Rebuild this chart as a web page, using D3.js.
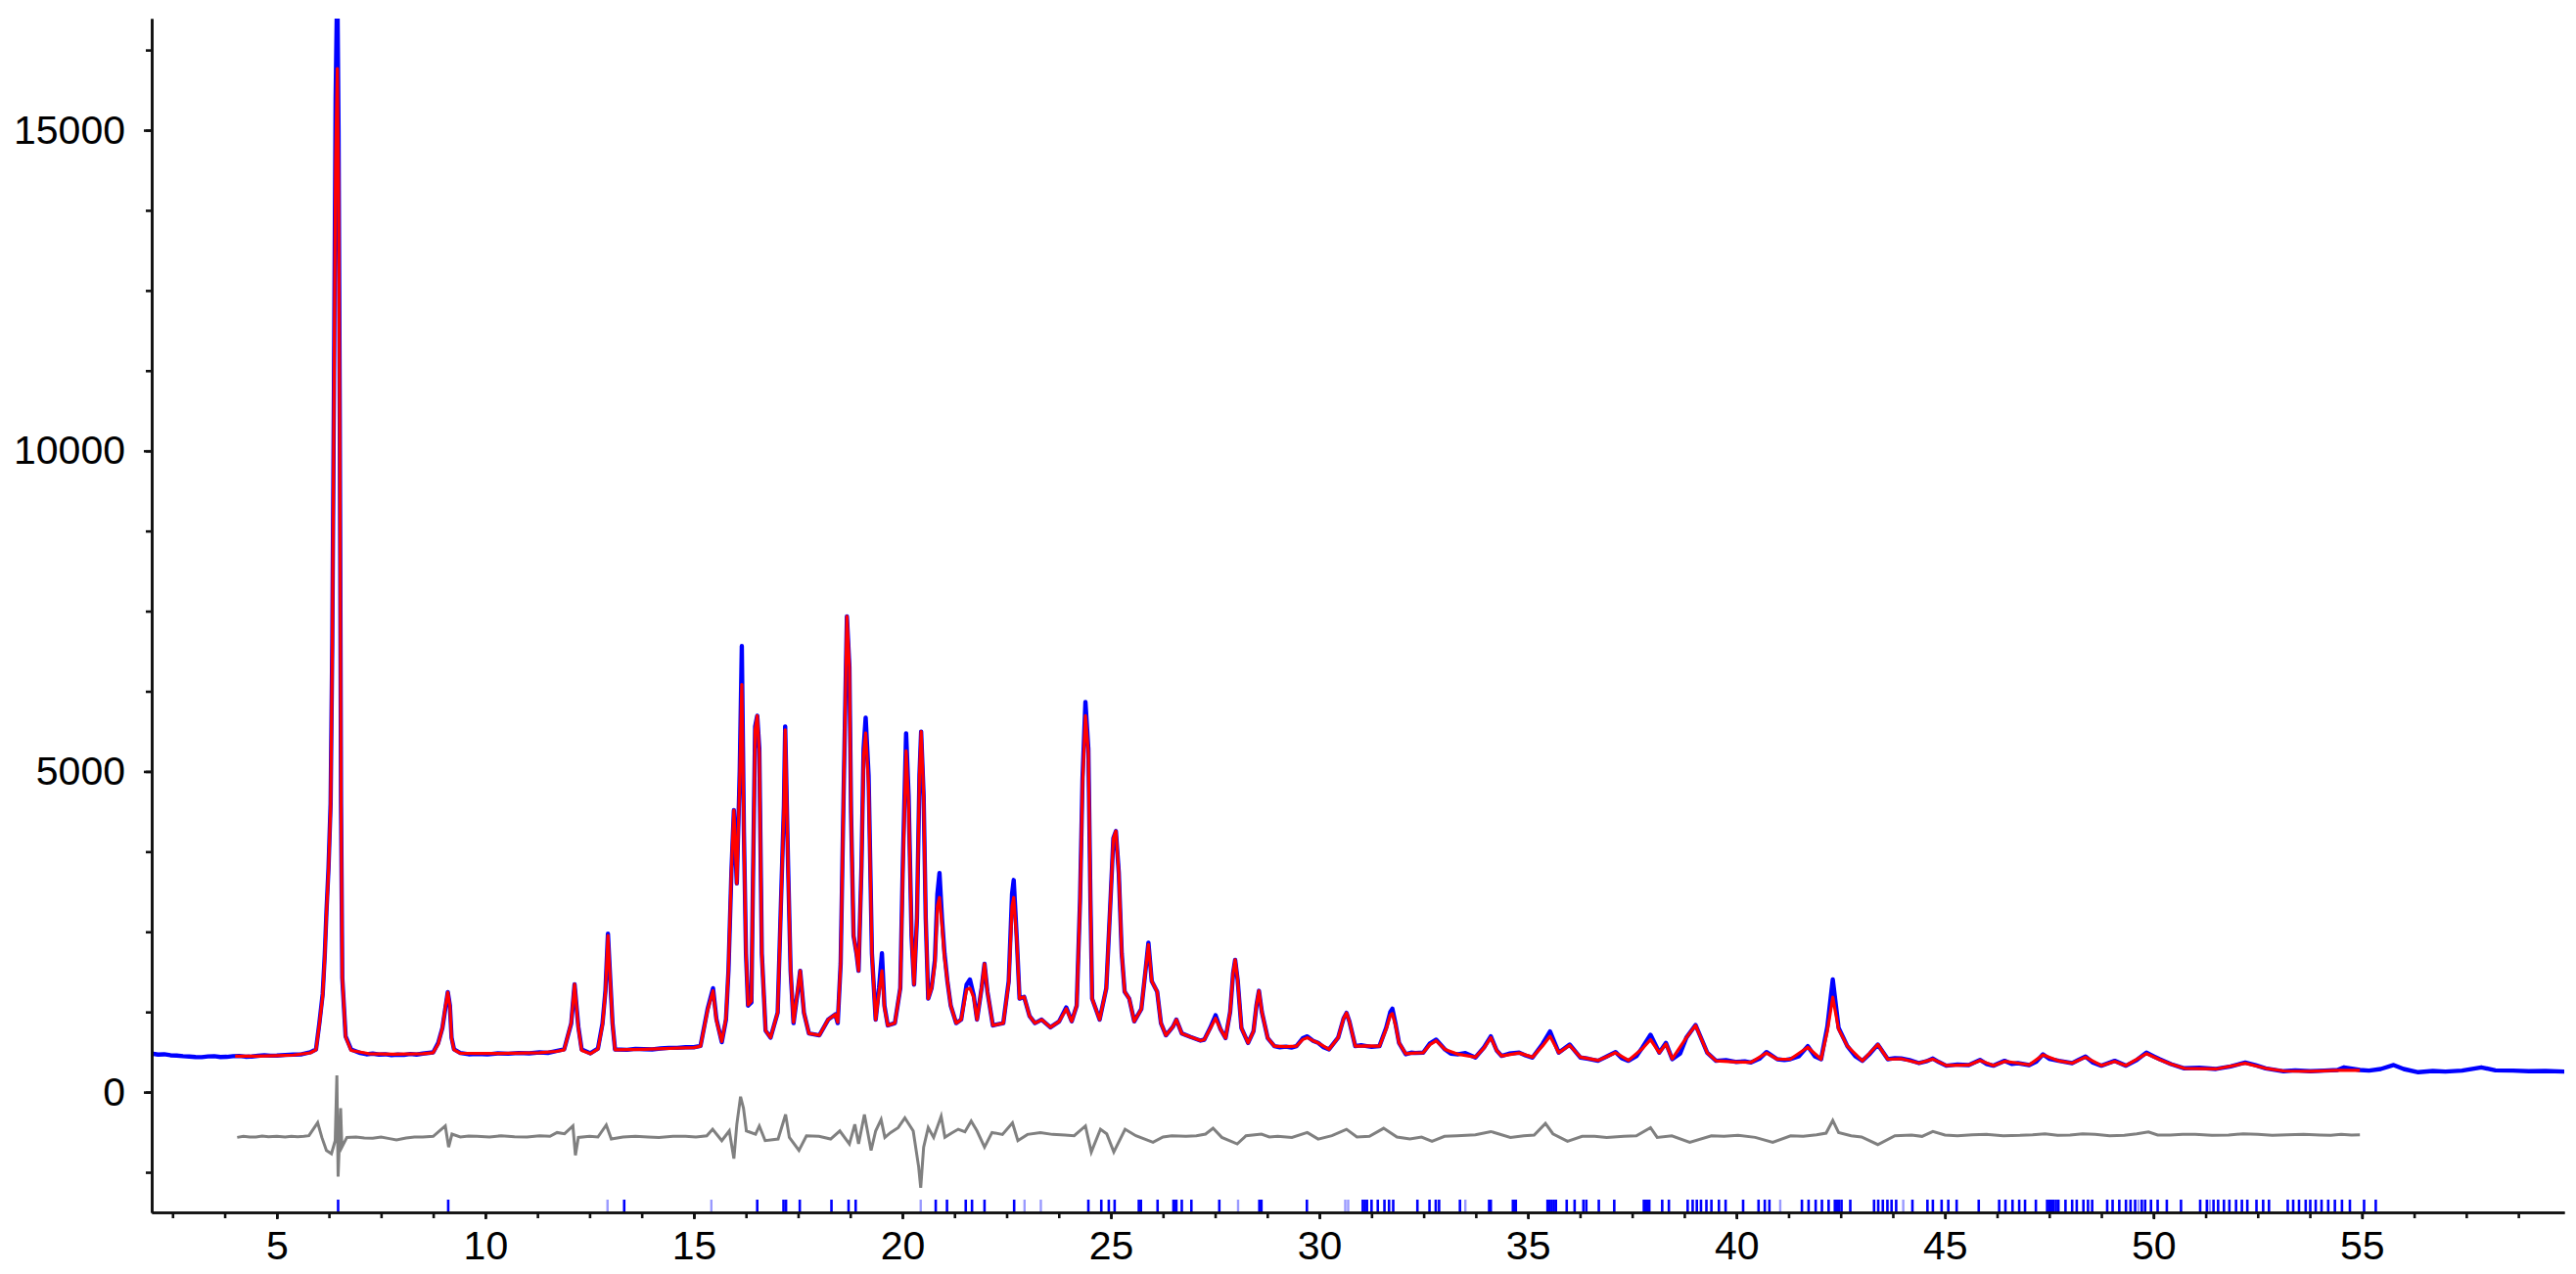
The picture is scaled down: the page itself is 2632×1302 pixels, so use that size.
<!DOCTYPE html>
<html>
<head>
<meta charset="utf-8">
<script src="https://cdn.jsdelivr.net/npm/d3@7"></script>
<style>
  body { margin: 0; background: #fff; }
  .axis text { font-family: "Liberation Sans", Arial, sans-serif; font-size: 41px; fill: #000; }
</style>
</head>
<body>
<div id="chart"></div>
<script>

// observed pattern [2theta, counts]
var observed = [
  [2.00,600],[2.15,585],[2.30,590],[2.45,575],[2.60,570],[2.75,560],[2.90,555],[3.05,548],[3.20,545],[3.35,556],
  [3.50,560],[3.65,548],[3.80,550],[3.95,560],[4.10,565],[4.25,552],[4.40,555],[4.55,566],[4.70,575],[4.85,568],
  [5.00,570],[5.20,580],[5.40,585],[5.60,590],[5.80,620],[5.94,666],[6.02,1072],[6.10,1529],[6.15,2139],[6.19,2805],
  [6.24,3500],[6.29,4500],[6.33,7000],[6.37,11000],[6.41,15500],[6.45,17400],[6.48,15000],[6.51,10500],[6.54,4500],[6.57,1783],
  [6.65,869],[6.78,666],[7.00,610],[7.15,590],[7.30,600],[7.45,585],[7.60,590],[7.75,575],[7.90,585],[8.05,580],
  [8.20,595],[8.35,585],[8.50,600],[8.75,620],[8.87,767],[8.97,1000],[9.04,1300],[9.10,1560],[9.15,1350],[9.19,850],
  [9.25,666],[9.40,610],[9.60,590],[9.80,595],[10.05,588],[10.30,605],[10.55,598],[10.80,610],[11.05,605],[11.30,620],
  [11.50,612],[11.70,640],[11.89,666],[12.06,1072],[12.14,1681],[12.23,1020],[12.31,666],[12.52,605],[12.70,680],[12.81,1072],
  [12.88,1580],[12.94,2470],[13.00,1700],[13.05,1072],[13.11,666],[13.40,660],[13.60,675],[13.80,670],[14.00,665],[14.20,680],
  [14.40,690],[14.60,690],[14.80,700],[15.00,700],
  [15.16,720],[15.33,1296],[15.46,1620],[15.54,1143],[15.67,780],[15.77,1130],[15.83,1892],[15.90,3416],[15.96,4396],[16.03,3253],
  [16.10,5000],[16.15,6956],[16.20,4070],[16.25,2164],[16.30,1348],[16.38,1400],[16.42,3416],[16.47,5703],[16.52,5869],[16.57,5350],
  [16.63,2164],[16.72,960],[16.84,850],[17.01,1239],[17.09,2981],[17.16,4460],[17.19,5703],[17.26,3526],[17.32,1892],[17.39,1076],
  [17.50,1620],[17.55,1892],[17.64,1239],[17.76,915],[18.01,886],[18.22,1130],[18.39,1212],[18.45,1076],[18.52,2001],[18.59,4615],
  [18.67,7418],[18.73,6630],[18.77,4343],[18.83,2439],[18.90,2164],[18.95,1892],[19.02,3526],[19.07,5350],[19.12,5840],[19.19,4940],
  [19.27,2164],[19.36,1130],[19.44,1620],[19.51,2164],[19.57,1348],[19.65,1040],[19.82,1076],[19.95,1620],[20.01,3526],[20.09,5595],
  [20.15,4615],[20.22,2439],[20.28,1676],[20.35,2712],[20.41,4940],[20.45,5622],[20.51,4615],[20.56,2712],[20.62,1457],[20.70,1620],
  [20.78,2056],[20.84,3090],[20.89,3416],[20.95,2712],[21.01,2164],[21.08,1729],[21.16,1348],[21.29,1076],[21.41,1130],[21.54,1676],
  [21.62,1756],[21.71,1512],[21.79,1130],[21.90,1620],[21.97,2001],[22.04,1566],[22.17,1040],[22.42,1076],[22.55,1729],[22.63,3090],
  [22.67,3308],[22.74,2439],[22.81,1457],[22.92,1485],[23.05,1185],[23.18,1076],[23.34,1130],[23.55,1010],[23.76,1103],[23.93,1320],
  [24.06,1103],[24.18,1348],[24.26,2981],[24.32,4887],[24.39,6084],[24.46,5350],[24.51,2981],[24.55,1457],[24.73,1130],[24.89,1620],
  [24.99,2981],[25.06,3962],[25.12,4070],[25.19,3416],[25.26,2164],[25.33,1566],[25.44,1457],[25.56,1103],[25.73,1296],[25.83,1892],
  [25.90,2328],[25.98,1729],[26.11,1566],[26.20,1076],[26.32,886],[26.49,1022],[26.57,1130],[26.70,915],[26.91,860],[27.15,803],
  [27.24,818],[27.38,1000],[27.51,1199],[27.63,980],[27.75,843],[27.86,1250],[27.93,1850],[27.98,2063],[28.04,1750],[28.13,1000],
  [28.29,767],[28.42,950],[28.49,1350],[28.55,1580],[28.62,1250],[28.76,844],[28.92,717],[29.05,700],[29.20,710],[29.33,695],
  [29.45,717],[29.60,840],[29.71,869],[29.85,800],[29.97,767],[30.10,700],[30.23,666],[30.45,850],[30.58,1150],[30.65,1235],
  [30.72,1100],[30.86,717],[31.00,730],[31.10,720],[31.25,705],[31.44,717],[31.60,1000],[31.70,1250],[31.75,1301],[31.83,1050],
  [31.91,767],[32.07,590],[32.20,615],[32.30,610],[32.49,615],[32.65,760],[32.80,818],[33.01,666],[33.15,600],[33.33,590],
  [33.50,610],[33.74,539],[33.95,700],[34.11,869],[34.25,650],[34.37,564],[34.55,600],[34.79,615],[34.95,570],[35.11,539],
  [35.35,750],[35.53,945],[35.74,615],[36.00,742],[36.26,539],[36.45,520],[36.68,488],[36.90,560],[37.10,625],[37.25,530],
  [37.41,488],[37.60,560],[37.75,700],[37.94,894],[38.15,615],[38.31,767],[38.46,513],[38.65,600],[38.80,850],[39.02,1047],
  [39.30,615],[39.51,488],[39.75,500],[40.00,470],[40.20,480],[40.35,462],[40.55,520],[40.72,625],[40.98,513],[41.15,500],
  [41.29,513],[41.50,560],[41.71,717],[41.88,560],[42.03,513],[42.18,1021],[42.31,1758],[42.45,1000],[42.66,717],[42.85,560],
  [43.02,488],[43.20,600],[43.39,742],[43.63,513],[43.80,530],[43.95,524],[44.15,500],[44.38,452],[44.55,480],[44.71,524],
  [44.85,470],[45.03,412],[45.30,430],[45.57,422],[45.84,503],[46.00,440],[46.16,412],[46.43,488],[46.60,440],[46.75,452],
  [47.02,422],[47.20,480],[47.35,590],[47.50,520],[47.73,488],[48.05,452],[48.20,500],[48.37,554],[48.55,460],[48.75,412],
  [49.07,488],[49.34,412],[49.60,500],[49.83,615],[50.00,560],[50.15,513],[50.42,437],[50.74,371],[51.10,380],[51.50,361],
  [51.85,400],[52.20,462],[52.45,420],[52.69,371],[53.12,325],[53.40,340],[53.76,325],[54.10,335],[54.41,345],[54.57,386],
  [54.95,345],[55.17,335],[55.45,360],[55.76,422],[56.00,360],[56.35,310],[56.70,330],[57.00,320],[57.40,335],[57.86,386],
  [58.20,340],[58.62,335],[59.00,325],[59.40,330],[59.89,320]
];

// calculated pattern [2theta, counts]
var calculated = [
  [4.00,560],[4.50,562],[5.00,568],[5.40,578],[5.80,612],[5.94,660],[6.02,1050],[6.10,1500],[6.15,2100],[6.19,2780],
  [6.24,3450],[6.29,4450],[6.33,6900],[6.37,10800],[6.41,14500],[6.45,15960],[6.48,14200],[6.51,10200],[6.54,4500],[6.57,1800],
  [6.65,860],[6.78,650],[7.20,600],[7.80,592],[8.50,598],[8.75,615],[8.87,750],[8.97,1000],[9.04,1320],[9.10,1555],
  [9.15,1340],[9.19,840],[9.25,660],[9.40,605],[10.30,603],[11.30,615],[11.70,635],[11.89,660],[12.06,1080],[12.14,1681],
  [12.23,1000],[12.31,650],[12.52,600],[12.70,670],[12.81,1050],[12.88,1560],[12.94,2440],[13.00,1680],[13.05,1060],[13.11,660],
  [13.80,668],[14.60,685],[15.00,695],[15.16,715],[15.33,1280],[15.46,1580],[15.54,1120],[15.67,790],[15.77,1150],[15.83,1900],
  [15.90,3450],[15.96,4396],[16.03,3253],[16.10,4900],[16.15,6357],[16.20,4000],[16.25,2164],[16.30,1360],[16.38,1420],[16.42,3400],
  [16.47,5650],[16.52,5869],[16.57,5300],[16.63,2150],[16.72,960],[16.84,850],[17.01,1239],[17.09,2950],[17.16,4430],[17.19,5650],
  [17.26,3500],[17.32,1892],[17.39,1090],[17.50,1640],[17.55,1892],[17.64,1239],[17.76,915],[18.01,886],[18.22,1130],[18.39,1212],
  [18.45,1090],[18.52,2001],[18.59,4615],[18.67,7418],[18.73,6630],[18.77,4343],[18.83,2439],[18.90,2164],[18.95,1892],[19.02,3500],
  [19.07,5250],[19.12,5600],[19.19,4800],[19.27,2164],[19.36,1130],[19.44,1560],[19.51,1892],[19.57,1320],[19.65,1040],[19.82,1076],
  [19.95,1620],[20.01,3400],[20.09,5322],[20.15,4500],[20.22,2439],[20.28,1676],[20.35,2712],[20.41,4940],[20.45,5622],[20.51,4615],
  [20.56,2712],[20.62,1457],[20.70,1620],[20.78,2000],[20.84,2900],[20.89,3035],[20.95,2600],[21.01,2100],[21.08,1729],[21.16,1348],
  [21.29,1076],[21.41,1130],[21.54,1600],[21.62,1620],[21.71,1480],[21.79,1130],[21.90,1620],[21.97,2001],[22.04,1566],[22.17,1040],
  [22.42,1076],[22.55,1700],[22.63,2900],[22.67,3035],[22.74,2400],[22.81,1457],[22.92,1485],[23.05,1185],[23.18,1076],[23.34,1130],
  [23.55,1010],[23.76,1103],[23.93,1300],[24.06,1103],[24.18,1348],[24.26,2950],[24.32,4800],[24.39,5869],[24.46,5300],[24.51,2981],
  [24.55,1457],[24.73,1130],[24.89,1620],[24.99,2981],[25.06,3962],[25.12,4070],[25.19,3416],[25.26,2164],[25.33,1566],[25.44,1457],
  [25.56,1103],[25.73,1296],[25.83,1892],[25.90,2300],[25.98,1729],[26.11,1566],[26.20,1076],[26.32,886],[26.49,1022],[26.57,1130],
  [26.70,915],[26.91,860],[27.15,803],[27.24,818],[27.38,990],[27.51,1150],[27.63,980],[27.75,843],[27.86,1250],[27.93,1850],
  [27.98,2063],[28.04,1750],[28.13,1000],[28.29,767],[28.42,950],[28.49,1350],[28.55,1580],[28.62,1250],[28.76,844],[28.92,717],
  [29.20,710],[29.45,717],[29.60,820],[29.71,850],[29.85,800],[29.97,767],[30.23,666],[30.45,850],[30.58,1150],[30.65,1235],
  [30.72,1100],[30.86,717],[31.10,720],[31.44,717],[31.60,980],[31.70,1200],[31.75,1224],[31.83,1030],[31.91,767],[32.07,600],
  [32.30,610],[32.49,615],[32.65,740],[32.80,800],[33.01,666],[33.33,590],[33.74,545],[33.95,690],[34.11,850],[34.25,650],
  [34.37,564],[34.79,610],[35.11,545],[35.35,720],[35.53,870],[35.74,615],[36.00,730],[36.26,545],[36.68,495],[36.90,555],
  [37.10,615],[37.41,495],[37.75,680],[37.94,818],[38.15,615],[38.31,750],[38.46,520],[38.80,850],[39.02,1040],[39.30,615],
  [39.51,488],[40.00,470],[40.35,465],[40.72,610],[40.98,513],[41.29,513],[41.71,700],[42.03,513],[42.18,950],[42.31,1479],
  [42.45,980],[42.66,717],[43.02,488],[43.39,742],[43.63,513],[43.95,520],[44.38,452],[44.71,515],[45.03,415],[45.57,422],
  [45.84,495],[46.16,415],[46.43,480],[46.75,452],[47.02,425],[47.35,580],[47.73,488],[48.05,452],[48.37,545],[48.75,415],
  [49.07,480],[49.34,415],[49.83,600],[50.15,505],[50.42,437],[50.74,371],[51.50,361],[52.20,450],[52.69,371],[53.12,330],
  [53.76,325],[54.41,340],[54.95,340]
];

// difference curve (drawn at its own offset below zero)
var difference = [
  [4.05,-706],[4.20,-690],[4.35,-700],[4.50,-700],[4.65,-685],[4.80,-695],[5.00,-690],[5.20,-700],[5.35,-688],[5.50,-695],
  [5.65,-690],[5.77,-680],[5.98,-477],[6.08,-706],[6.19,-909],[6.31,-960],[6.40,-757],[6.44,259],[6.47,-1316],[6.53,-249],
  [6.56,-858],[6.68,-706],[6.90,-700],[7.10,-715],[7.30,-720],[7.50,-700],[7.70,-725],[7.87,-747],[8.10,-715],[8.30,-700],
  [8.50,-700],[8.75,-690],[9.04,-528],[9.12,-858],[9.20,-655],[9.40,-700],[9.60,-685],[9.80,-690],[10.10,-700],[10.38,-680],
  [10.70,-695],[11.00,-700],[11.30,-680],[11.55,-690],[11.72,-630],[11.90,-650],[12.10,-528],[12.16,-985],[12.23,-706],[12.50,-690],
  [12.70,-700],[12.90,-513],[13.02,-731],[13.30,-700],[13.60,-690],[13.90,-700],[14.16,-706],[14.50,-690],[14.80,-690],[15.05,-700],
  [15.31,-681],[15.45,-579],[15.67,-757],[15.85,-605],[15.96,-1036],[16.03,-503],[16.12,-71],[16.19,-249],[16.26,-605],[16.48,-655],
  [16.57,-528],[16.71,-757],[17.02,-731],[17.20,-350],[17.29,-706],[17.52,-910],[17.70,-681],[18.00,-690],[18.28,-731],[18.50,-605],
  [18.73,-808],[18.86,-503],[18.95,-808],[19.09,-350],[19.25,-910],[19.36,-605],[19.49,-427],[19.58,-706],[19.72,-630],[19.90,-554],
  [20.06,-401],[20.26,-605],[20.39,-1163],[20.44,-1493],[20.51,-859],[20.62,-554],[20.75,-706],[20.93,-376],[21.02,-706],[21.18,-640],
  [21.34,-579],[21.50,-620],[21.65,-452],[21.79,-605],[21.97,-859],[22.15,-630],[22.40,-660],[22.64,-478],[22.77,-757],[23.00,-660],
  [23.31,-630],[23.60,-660],[23.90,-670],[24.12,-681],[24.39,-528],[24.53,-935],[24.75,-579],[24.90,-650],[25.07,-935],[25.34,-579],
  [25.60,-680],[26.01,-783],[26.25,-700],[26.46,-681],[26.80,-690],[27.05,-680],[27.27,-655],[27.45,-564],[27.66,-706],[28.03,-808],
  [28.24,-681],[28.61,-656],[28.80,-700],[29.00,-690],[29.34,-706],[29.71,-630],[29.97,-732],[30.30,-680],[30.65,-580],[30.90,-700],
  [31.20,-690],[31.54,-564],[31.86,-700],[32.17,-732],[32.45,-700],[32.70,-767],[33.00,-690],[33.30,-680],[33.74,-665],[34.11,-615],
  [34.58,-706],[34.90,-680],[35.15,-670],[35.42,-488],[35.60,-650],[35.95,-767],[36.30,-690],[36.60,-690],[36.89,-706],[37.30,-690],
  [37.60,-680],[37.94,-554],[38.10,-706],[38.45,-681],[38.88,-783],[39.40,-681],[39.70,-690],[40.04,-672],[40.45,-706],[40.87,-783],
  [41.30,-681],[41.60,-690],[41.92,-665],[42.15,-640],[42.31,-443],[42.45,-630],[42.75,-681],[43.00,-700],[43.39,-818],[43.80,-680],
  [44.20,-670],[44.45,-690],[44.71,-615],[45.00,-670],[45.30,-680],[45.65,-665],[46.00,-660],[46.40,-680],[46.80,-675],[47.10,-665],
  [47.40,-650],[47.70,-675],[48.00,-670],[48.30,-650],[48.60,-660],[48.95,-680],[49.30,-675],[49.60,-650],[49.88,-620],[50.10,-670],
  [50.40,-670],[50.70,-660],[51.00,-660],[51.40,-675],[51.80,-668],[52.15,-650],[52.50,-660],[52.85,-672],[53.20,-665],[53.60,-660],
  [54.00,-668],[54.25,-675],[54.50,-660],[54.75,-670],[54.95,-666]
];

// reflection positions (2theta)
var braggTicks = [
  6.47, 9.11, 13.33, 16.52, 17.15, 17.21, 17.54, 18.30, 18.71, 18.88, 20.80, 21.07, 21.52, 21.67, 21.97, 22.68,
  24.46, 24.77, 24.95, 25.09, 25.67, 25.72, 26.12, 26.50, 26.54, 26.57, 26.70, 26.93, 27.60, 28.56, 28.61, 29.70,
  31.04, 31.09, 31.14, 31.25, 31.40, 31.56, 31.67, 31.77, 32.35, 32.64, 32.79, 32.87, 33.37, 34.07, 34.11, 34.64,
  34.67, 34.71, 35.47, 35.52, 35.57, 35.62, 35.67, 35.93, 36.12, 36.33, 36.40, 36.70, 37.07, 37.78, 37.82, 37.86,
  37.91, 38.22, 38.38, 38.83, 38.95, 39.05, 39.15, 39.28, 39.40, 39.58, 39.74, 40.16, 40.53, 40.68, 40.79, 41.57,
  41.73, 41.90, 42.05, 42.21, 42.36, 42.41, 42.46, 42.52, 42.73, 43.30, 43.40, 43.51, 43.62, 43.72, 43.83, 44.22,
  44.58, 44.71, 44.92, 45.08, 45.28, 45.81, 46.30, 46.45, 46.62, 46.78, 46.92, 47.18, 47.45, 47.50, 47.55, 47.60,
  47.66, 47.72, 47.89, 48.05, 48.16, 48.32, 48.43, 48.53, 48.89, 49.02, 49.18, 49.34, 49.45, 49.56, 49.72, 49.80,
  49.94, 50.10, 50.32, 50.66, 51.12, 51.28, 51.44, 51.55, 51.69, 51.82, 51.98, 52.12, 52.25, 52.47, 52.63, 52.77,
  53.22, 53.35, 53.49, 53.65, 53.76, 53.89, 54.03, 54.19, 54.35, 54.52, 54.71, 55.05, 55.33
];
var braggTicksFaint = [12.93, 15.42, 20.44, 22.93, 23.32, 28.05, 30.62, 30.69, 33.50, 41.05, 44.00, 49.64, 51.35];

var xTickValues = [5, 10, 15, 20, 25, 30, 35, 40, 45, 50, 55];
var yTickValues = [0, 5000, 10000, 15000];


var width = 2632,
    height = 1302,
    margin = { top: 19, right: 12, bottom: 62, left: 155 };

var svg = d3.select("#chart").append("svg")
    .attr("width", width)
    .attr("height", height)
    .style("display", "block");

var x = d3.scaleLinear()
    .domain([2, 59.85])
    .range([margin.left, width - margin.right]);

var y = d3.scaleLinear()
    .domain([-1875, 16740])
    .range([height - margin.bottom - 1, margin.top]);

svg.append("clipPath")
    .attr("id", "plotArea")
  .append("rect")
    .attr("x", margin.left)
    .attr("y", margin.top)
    .attr("width", width - margin.left - margin.right)
    .attr("height", y(-1875) - margin.top);

var line = d3.line()
    .x(function(d) { return x(d[0]); })
    .y(function(d) { return y(d[1]); })
    .curve(d3.curveLinear);

var plot = svg.append("g").attr("clip-path", "url(#plotArea)");

// observed, calculated, difference
plot.append("path")
    .attr("d", line(observed))
    .attr("fill", "none")
    .attr("stroke", "#0000ff")
    .attr("stroke-width", 4.4)
    .attr("stroke-linejoin", "round");

plot.append("path")
    .attr("d", line(calculated))
    .attr("fill", "none")
    .attr("stroke", "#ff0000")
    .attr("stroke-width", 3.2)
    .attr("stroke-linejoin", "round");

plot.append("path")
    .attr("d", line(difference))
    .attr("fill", "none")
    .attr("stroke", "#808080")
    .attr("stroke-width", 3);

// reflection markers sitting on the x axis
var tickBase = y(-1875), tickTop = tickBase - 13;

plot.selectAll(".bragg-faint")
    .data(braggTicksFaint)
  .enter().append("line")
    .attr("class", "bragg-faint")
    .attr("x1", function(d) { return x(d); })
    .attr("x2", function(d) { return x(d); })
    .attr("y1", tickBase)
    .attr("y2", tickTop)
    .attr("stroke", "#9a9aff")
    .attr("stroke-width", 2.4);

plot.selectAll(".bragg")
    .data(braggTicks)
  .enter().append("line")
    .attr("class", "bragg")
    .attr("x1", function(d) { return x(d); })
    .attr("x2", function(d) { return x(d); })
    .attr("y1", tickBase)
    .attr("y2", tickTop)
    .attr("stroke", "#0000ff")
    .attr("stroke-width", 2.6);

// axes
svg.append("g")
    .attr("class", "axis")
    .attr("transform", "translate(0," + y(-1875) + ")")
    .call(d3.axisBottom(x).tickValues(xTickValues).tickSize(7).tickSizeOuter(0).tickPadding(12));

svg.append("g")
    .attr("class", "axis")
    .attr("transform", "translate(0," + y(-1875) + ")")
    .call(d3.axisBottom(x).tickValues(d3.range(2.5, 59.9, 1.25)).tickSize(6).tickSizeOuter(0).tickFormat(""));

svg.append("g")
    .attr("class", "axis")
    .attr("transform", "translate(" + margin.left + ",0)")
    .call(d3.axisLeft(y).tickValues(yTickValues).tickSize(8).tickSizeOuter(0).tickPadding(19).tickFormat(d3.format("d")));

svg.append("g")
    .attr("class", "axis")
    .attr("transform", "translate(" + margin.left + ",0)")
    .call(d3.axisLeft(y).tickValues(d3.range(-1250, 16500, 1250)).tickSize(6).tickSizeOuter(0).tickFormat(""));

svg.selectAll(".axis path, .axis line")
    .attr("stroke", "#111")
    .attr("stroke-width", 2.6);

</script>
</body>
</html>
